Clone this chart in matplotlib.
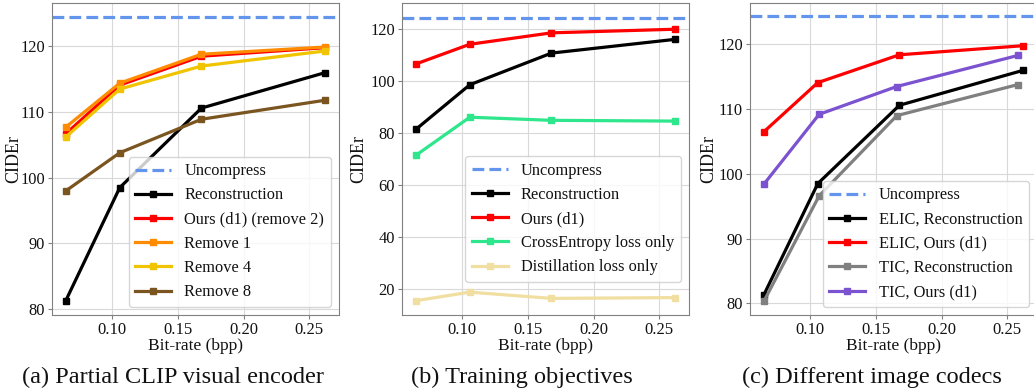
import matplotlib
matplotlib.use("Agg")
import matplotlib.pyplot as plt

plt.rcParams['font.family'] = ['Liberation Serif', 'DejaVu Serif']
plt.rcParams['mathtext.fontset'] = 'stix'

# ---------------- data ----------------
uncompress = 124.4

bpp = [0.065, 0.106, 0.168, 0.262]
bpp_tic = [0.065, 0.107, 0.166, 0.258]

# (a) Partial CLIP visual encoder
a_recon = [81.3, 98.5, 110.6, 116.0]
a_ours = [106.7, 114.1, 118.5, 119.8]
a_rm1 = [107.7, 114.4, 118.8, 119.9]
a_rm4 = [106.2, 113.5, 117.0, 119.3]
a_rm8 = [98.0, 103.8, 108.9, 111.8]

# (b) Training objectives
b_recon = [81.3, 98.5, 110.7, 116.0]
b_ours = [106.5, 114.1, 118.5, 119.9]
b_ce = [71.3, 86.0, 84.8, 84.5]
b_dist = [15.3, 18.6, 16.2, 16.5]

# (c) Different image codecs
c_elic_recon = [81.3, 98.5, 110.6, 116.0]
c_elic_ours = [106.5, 114.1, 118.4, 119.8]
c_tic_recon = [80.3, 96.6, 109.0, 113.8]
c_tic_ours = [98.4, 109.2, 113.5, 118.3]

captions = ["(a) Partial CLIP visual encoder", "(b) Training objectives", "(c) Different image codecs"]

# ---------------- plotting ----------------
W, H = 1034, 392
fig = plt.figure(figsize=(W / 100, H / 100), dpi=100)

def add_ax(left_px, right_px, top_px=3, bottom_px=315):
    return fig.add_axes([left_px / W, 1 - bottom_px / H, (right_px - left_px) / W, (bottom_px - top_px) / H])

lefts = [52, 402, 750]
axes = [add_ax(l, l + 287) for l in lefts]
ylabel_off = [-30, -35, -33]

BLUE = '#6495ED'
lw = 2.3
ms = 5.0

def style(ax, yticks, yoff):
    ax.grid(True, color='#d9d9d9', linewidth=0.8)
    ax.set_axisbelow(True)
    for s in ax.spines.values():
        s.set_color('#808080')
    ax.tick_params(colors='#808080', labelcolor='#111111', labelsize=12, length=3, pad=2)
    ax.tick_params(axis='y', labelsize=11.8)
    ax.set_xticks([0.10, 0.15, 0.20, 0.25])
    ax.set_xticklabels(['0.10', '0.15', '0.20', '0.25'])
    ax.set_yticks(yticks)
    ax.set_xlabel('Bit-rate (bpp)', fontsize=12.5, labelpad=0, color='#111111')
    ax.set_ylabel('CIDEr', fontsize=13, color='#111111')
    ax.yaxis.set_label_coords(yoff / 287, 0.5)

def series(ax, x, y, color, label):
    ax.plot(x, y, '-s', color=color, lw=lw, ms=ms, label=label)

LEG = dict(fontsize=11.8, handlelength=2.2, borderaxespad=0.5, labelcolor='#111111')

# (a)
ax = axes[0]
ax.axhline(uncompress, color=BLUE, ls='--', lw=lw, label='Uncompress')
series(ax, bpp, a_recon, 'black', 'Reconstruction')
series(ax, bpp, a_ours, 'red', 'Ours (d1) (remove 2)')
series(ax, bpp, a_rm1, '#ff8c00', 'Remove 1')
series(ax, bpp, a_rm4, '#f0c400', 'Remove 4')
series(ax, bpp, a_rm8, '#7a5520', 'Remove 8')
ax.set_xlim(0.0545, 0.2725)
ax.set_ylim(79.1, 126.6)
style(ax, [80, 90, 100, 110, 120], ylabel_off[0])
ax.legend(loc='lower right', **LEG)

# (b)
ax = axes[1]
ax.axhline(uncompress, color=BLUE, ls='--', lw=lw, label='Uncompress')
series(ax, bpp, b_recon, 'black', 'Reconstruction')
series(ax, bpp, b_ours, 'red', 'Ours (d1)')
series(ax, bpp, b_ce, '#2ee68c', 'CrossEntropy loss only')
series(ax, bpp, b_dist, '#f0dfa0', 'Distillation loss only')
ax.set_xlim(0.0545, 0.2725)
ax.set_ylim(9.8, 130.0)
style(ax, [20, 40, 60, 80, 100, 120], ylabel_off[1])
ax.legend(loc='lower right', bbox_to_anchor=(1.0, 0.08), **LEG)

# (c)
ax = axes[2]
ax.axhline(uncompress, color=BLUE, ls='--', lw=lw, label='Uncompress')
series(ax, bpp, c_elic_recon, 'black', 'ELIC, Reconstruction')
series(ax, bpp, c_elic_ours, 'red', 'ELIC, Ours (d1)')
series(ax, bpp_tic, c_tic_recon, '#808080', 'TIC, Reconstruction')
series(ax, bpp_tic, c_tic_ours, '#7b52d0', 'TIC, Ours (d1)')
ax.set_xlim(0.0545, 0.2725)
ax.set_ylim(78.2, 126.4)
style(ax, [80, 90, 100, 110, 120], ylabel_off[2])
ax.legend(loc='lower right', **LEG)

for cx, cap in zip([173, 522, 872], captions):
    fig.text(cx / W, 1 - 377 / H, cap, ha='center', va='center', fontsize=17.5, color='#111111')

fig.savefig('out.png', dpi=100)
